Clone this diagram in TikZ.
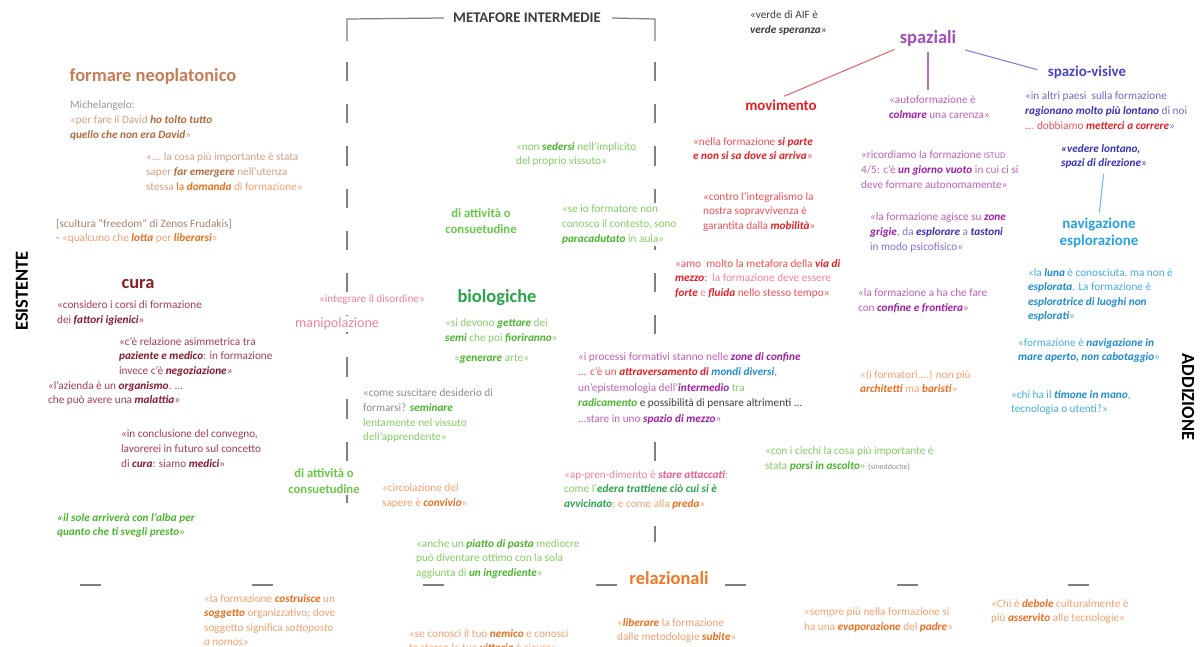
\documentclass[tikz,border=0pt]{standalone}
\usepackage{fontspec}
\setmainfont{Carlito}
\usepackage{tikz}

\definecolor{neoTitle}{RGB}{196,125,85}
\definecolor{neoGray}{RGB}{150,150,150}
\definecolor{neoLight}{RGB}{212,160,130}
\definecolor{neoDark}{RGB}{180,105,60}
\definecolor{neoBrown}{RGB}{165,130,110}
\definecolor{curaTitle}{RGB}{140,30,40}
\definecolor{curaText}{RGB}{165,60,85}
\definecolor{curaDark}{RGB}{135,25,45}
\definecolor{greenHead}{RGB}{105,200,70}
\definecolor{greenBio}{RGB}{40,165,75}
\definecolor{greenText}{RGB}{130,205,100}
\definecolor{greenDark}{RGB}{75,180,45}
\definecolor{pinkText}{RGB}{240,130,160}
\definecolor{pinkDark}{RGB}{235,90,140}
\definecolor{orangeHead}{RGB}{240,120,40}
\definecolor{orangeText}{RGB}{245,160,110}
\definecolor{orangeDark}{RGB}{235,110,30}
\definecolor{spazTitle}{RGB}{165,75,185}
\definecolor{spazText}{RGB}{190,95,185}
\definecolor{spazDark}{RGB}{160,30,165}
\definecolor{motoRed}{RGB}{230,30,35}
\definecolor{motoText}{RGB}{240,80,85}
\definecolor{visTitle}{RGB}{70,70,195}
\definecolor{visText}{RGB}{110,105,210}
\definecolor{visDark}{RGB}{55,50,185}
\definecolor{violetText}{RGB}{140,110,210}
\definecolor{navTitle}{RGB}{40,160,225}
\definecolor{navText}{RGB}{70,170,225}
\definecolor{navDark}{RGB}{30,140,210}
\definecolor{darkText}{RGB}{60,60,60}
\definecolor{midGray}{RGB}{140,140,140}
\definecolor{ruleGray}{RGB}{128,128,128}

\newcommand{\kw}[2]{\textcolor{#1}{\bfseries\itshape #2}}

\begin{document}
\begin{tikzpicture}[
  x=0.02cm, y=-0.02cm,
  every node/.style={inner sep=1pt},
  quote/.style={anchor=north west, align=left, fill=white, font=\fontsize{6.4}{8.3}\selectfont},
  title/.style={fill=white, font=\fontsize{10.5}{12}\selectfont\bfseries},
  head/.style={fill=white, align=center, font=\fontsize{8.5}{9.7}\selectfont\bfseries},
  habit/.style={fill=white, align=center, text=greenHead, font=\fontsize{7.2}{9}\selectfont\bfseries},
  side/.style={font=\fontsize{10.5}{12}\selectfont\bfseries},
  band/.style={text=darkText, font=\fontsize{8.4}{10}\selectfont\bfseries},
  rule/.style={draw=ruleGray, line width=0.7pt},
  gap/.style={rule, dash pattern=on 11pt off 13pt},
  link/.style={line width=0.6pt, shorten <=2pt, shorten >=2pt}]

  \useasboundingbox (0,0) rectangle (1203,646);

  % The middle band and its frame
  \node[band] (metafore) at (527,18) {METAFORE INTERMEDIE};
  \coordinate (l_top) at (347,19);
  \coordinate (l_dash) at (347,62);
  \coordinate (l_end) at (347,522);
  \coordinate (r_top) at (655,19);
  \coordinate (r_dash) at (655,62);
  \coordinate (r_end) at (655,542);
  \draw[rule] ([xshift=-0.14cm]metafore.west) -- (l_top) -- ++(0,22);
  \draw[rule] ([xshift=0.18cm]metafore.east) -- (r_top) -- ++(0,22);
  \draw[gap] (l_dash) -- (l_end);
  \draw[gap] (r_dash) -- (r_end);
  \foreach \x in {80,252,423,596,725,897,1068}
    \draw[rule] (\x,585) -- ++(21,0);

  % Left side: existing metaphors
  \node[title, text=neoTitle] (neo_title) at (153,76) {formare neoplatonico};
  \node[quote, text=neoLight] (michelangelo) at (68,99) {\textcolor{neoGray}{Michelangelo:}\\«per fare il David \kw{neoDark}{ho tolto tutto}\\\kw{neoDark}{quello che non era David}»};
  \node[quote, text=neoLight] (domanda) at (144,151) {«... la cosa più importante è stata\\saper \kw{neoDark}{far emergere} nell’utenza\\stessa \textcolor{orangeDark}{la} \kw{orangeDark}{domanda} \textcolor{orangeText}{di formazione»}};
  \node[quote, text=orangeText] (freedom) at (54,217) {\textcolor{neoBrown}{[scultura “freedom” di Zenos Frudakis]}\\\textcolor{neoBrown}{-} «qualcuno che \kw{orangeDark}{lotta} per \kw{orangeDark}{liberarsi}»};
  \node[side, rotate=90] (esistente) at (22,291) {ESISTENTE};
  \node[title, text=curaTitle] (cura_title) at (138,284) {cura};
  \node[quote, text=curaText] (igienici) at (55,299) {«considero i corsi di formazione\\dei \kw{curaDark}{fattori igienici}»};
  \node[quote, text=curaText] (paziente) at (117,335) {«c’è relazione asimmetrica tra\\\kw{curaDark}{paziente e medico}: in formazione\\invece c’è \kw{curaDark}{negoziazione}»};
  \node[quote, text=curaText] (organismo) at (46,379) {«l’azienda è un \kw{curaDark}{organismo}. ...\\che può avere una \kw{curaDark}{malattia}»};
  \node[quote, text=curaText] (medici) at (119,428) {«in conclusione del convegno,\\lavorerei in futuro sul concetto\\di \kw{curaDark}{cura}: siamo \kw{curaDark}{medici}»};
  \node[quote, text=greenDark] (sole) at (55,511) {\kw{greenDark}{«il sole arriverà con l’alba per}\\\kw{greenDark}{quanto che ti svegli presto}»};

  % Middle band
  \node[quote, text=greenText] (sedersi) at (514,140) {«non \kw{greenDark}{sedersi} nell’implicito\\del proprio vissuto»};
  \node[habit] (habit_top) at (481,221) {di attività o\\consuetudine};
  \node[quote, text=greenText] (paracadute) at (560,203) {«se io formatore non\\conosco il contesto, sono\\\kw{greenDark}{paracadutato} in aula»};
  \node[quote, text=pinkText] (disordine) at (317,293) {«integrare il disordine»};
  \node[fill=white, text=pinkText, font=\fontsize{8}{10}\selectfont] (manipolazione) at (337,324) {manipolazione};
  \node[title, text=greenBio] (bio_title) at (497,298) {biologiche};
  \node[quote, text=greenText] (semi) at (443,317) {«si devono \kw{greenDark}{gettare} dei\\\kw{greenDark}{semi} che poi \kw{greenDark}{fioriranno}»};
  \node[quote, text=greenText] (arte) at (452,352) {«\kw{greenDark}{generare} arte»};
  \node[quote, text=greenText] (seminare) at (361,387) {\textcolor{midGray}{«come suscitare desiderio di}\\\textcolor{midGray}{formarsi?} \kw{greenDark}{seminare}\\lentamente nel vissuto\\dell’apprendente»};
  \node[habit] (habit_low) at (324,481) {di attività o\\consuetudine};
  \node[quote, text=orangeText] (convivio) at (380,482) {«circolazione del\\sapere è \kw{orangeDark}{convivio}»};
  \node[quote, text=greenText] (pasta) at (414,537) {«anche un \kw{greenDark}{piatto di pasta} mediocre\\può diventare ottimo con la sola\\aggiunta di \kw{greenDark}{un ingrediente}»};
  \node[title, text=orangeHead] (rel_title) at (669,578) {relazionali};
  \node[quote, text=orangeText] (soggetto) at (202,592) {«la formazione \kw{orangeDark}{costruisce} un\\\kw{orangeDark}{soggetto} organizzativo; dove\\soggetto significa \textit{sottoposto}\\\textit{a nomos}»};
  \node[quote, text=orangeText] (nemico) at (407,627) {«se conosci il tuo \kw{orangeDark}{nemico} e conosci\\te stesso la tua \kw{orangeDark}{vittoria} è sicura»};
  \node[quote, text=orangeText] (liberare) at (615,616) {«\kw{orangeDark}{liberare} la formazione\\dalle metodologie \kw{orangeDark}{subite}»};

  % Right side: added metaphors
  \node[quote, text=darkText] (aif) at (748,9) {«verde di AIF è\\\textbf{\textit{verde speranza}}»};
  \node[title, text=spazTitle] (spaziali) at (928,38) {spaziali};
  \node[head, text=motoRed] (movimento) at (781,105) {movimento};
  \node[quote, text=spazText] (colmare) at (887,94) {«autoformazione è\\\kw{spazDark}{colmare} una carenza»};
  \node[head, text=visTitle] (spazio_visive) at (1087,72) {spazio-visive};
  \node[quote, text=visText] (lontano) at (1023,90) {«in altri paesi\ \ sulla formazione\\\kw{visDark}{ragionano molto più lontano} di noi\\\textcolor{motoText}{... dobbiamo} \kw{motoRed}{metterci a correre}»};
  \node[quote, text=motoText] (si_parte) at (691,135) {«nella formazione \kw{motoRed}{si parte}\\\kw{motoRed}{e non si sa dove si arriva}»};
  \node[quote, text=spazText] (giorno_vuoto) at (859,149) {«ricordiamo la formazione {\fontsize{5}{8}\selectfont ISTUD}\\4/5: c’è \kw{spazDark}{un giorno vuoto} in cui ci si\\deve formare autonomamente»};
  \node[quote, text=visDark] (vedere) at (1059,142) {\kw{visDark}{«vedere lontano,}\\\kw{visDark}{spazi di direzione}»};
  \node[quote, text=motoText] (mobilita) at (701,190) {«contro l’integralismo la\\nostra sopravvivenza è\\garantita dalla \kw{motoRed}{mobilità}»};
  \node[quote, text=violetText] (tastoni) at (868,211) {\textcolor{spazText}{«la formazione agisce su} \kw{spazDark}{zone}\\\kw{spazDark}{grigie}, da \kw{visDark}{esplorare} a \kw{visDark}{tastoni}\\in modo psicofisico»};
  \node[head, text=navTitle] (navigazione) at (1099,233) {navigazione\\esplorazione};
  \node[quote, text=motoText] (via_mezzo) at (673,257) {«amo\ \ molto la metafora della \kw{motoRed}{via di}\\\kw{motoRed}{mezzo}:\ \ \textcolor{pinkText}{la formazione deve essere}\\\kw{motoRed}{forte} \textcolor{pinkText}{e} \kw{motoRed}{fluida} nello stesso tempo»};
  \node[quote, text=spazText] (frontiera) at (856,287) {«la formazione a ha che fare\\con \kw{spazDark}{confine e frontiera}»};
  \node[quote, text=navText] (luna) at (1026,266) {«la \kw{navDark}{luna} è conosciuta, ma non è\\\kw{navDark}{esplorata}. La formazione è\\\kw{navDark}{esploratrice di luoghi non}\\\kw{navDark}{esplorati}»};
  \node[quote, text=spazText, font=\fontsize{6.4}{8.9}\selectfont] (confine) at (576,350) {«i processi formativi stanno nelle \kw{spazDark}{zone di confine}\\\textcolor{motoText}{... c’è un} \kw{motoRed}{attraversamento di} \kw{navDark}{mondi diversi},\\un’epistemologia dell’\kw{spazDark}{intermedio} \textcolor{greenText}{tra}\\\kw{greenDark}{radicamento} \textcolor{darkText}{e possibilità di pensare altrimenti ...}\\...stare in uno \kw{spazDark}{spazio di mezzo}»};
  \node[quote, text=navText] (cabotaggio) at (1016,336) {«formazione è \kw{navDark}{navigazione in}\\\kw{navDark}{mare aperto, non cabotaggio}»};
  \node[quote, text=orangeText] (baristi) at (858,368) {«(i formatori....) non più\\\kw{orangeDark}{architetti} ma \kw{orangeDark}{baristi}»};
  \node[side, rotate=-90] (addizione) at (1188,397) {ADDIZIONE};
  \node[quote, text=navText] (timone) at (1009,388) {«chi ha il \kw{navDark}{timone in mano},\\tecnologia o utenti?»};
  \node[quote, text=greenText] (ascolto) at (763,445) {«con i ciechi la cosa più importante è\\stata \kw{greenDark}{porsi in ascolto}» \textcolor{midGray}{\fontsize{4.5}{8}\selectfont (sineddoche)}};
  \node[quote, text=pinkText] (attaccati) at (562,468) {«ap-pren-dimento è \kw{pinkDark}{stare attaccati}:\\\textcolor{greenText}{come l’}\kw{greenBio}{edera trattiene ciò cui si è}\\\kw{greenBio}{avvicinato}; \textcolor{orangeText}{e come alla} \kw{orangeDark}{preda}\textcolor{orangeText}{»}};
  \node[quote, text=orangeText] (padre) at (802,606) {«sempre più nella formazione si\\ha una \kw{orangeDark}{evaporazione} del \kw{orangeDark}{padre}»};
  \node[quote, text=orangeText] (debole) at (989,597) {«Chi è \kw{orangeDark}{debole} culturalmente è\\più \kw{orangeDark}{asservito} alle tecnologie»};

  % Connectors of the spatial branch
  \draw[link, draw=motoRed!70] (spaziali.south west) -- (movimento.north);
  \draw[link, draw=spazTitle!80] (spaziali.south) -- (spaziali.south |- colmare.north);
  \draw[link, draw=visTitle!70, shorten <=4pt, shorten >=5pt] (spaziali.south east) -- (spazio_visive.west);
  \draw[link, draw=navTitle!70] (vedere.south) -- (navigazione.north);
\end{tikzpicture}
\end{document}
